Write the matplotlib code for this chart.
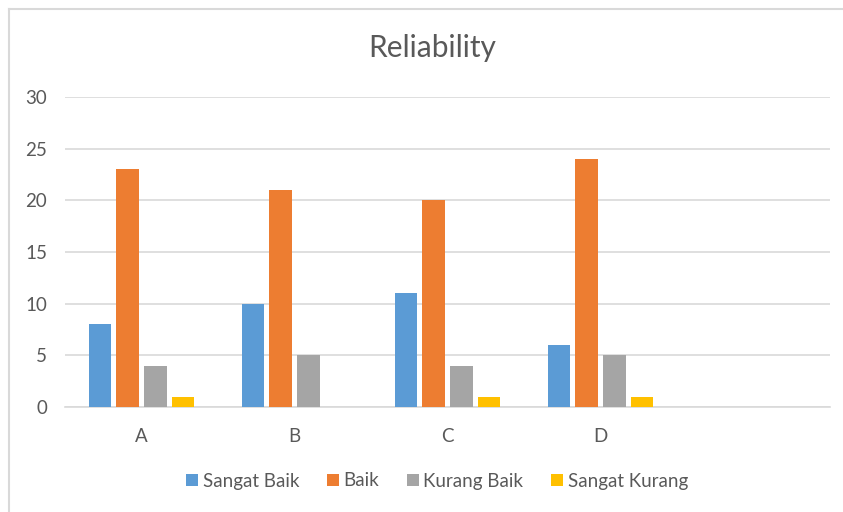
import numpy as np
import matplotlib.pyplot as plt
from matplotlib.lines import Line2D

plt.rcParams['font.family'] = ['Lato', 'DejaVu Sans']

kategori = ["A", "B", "C", "D", ""]
seri = ["Sangat Baik", "Baik", "Kurang Baik", "Sangat Kurang"]
sangat_baik = [8, 10, 11, 6]
baik = [23, 21, 20, 24]
kurang_baik = [4, 5, 4, 5]
sangat_kurang = [1, 0, 1, 1]
warna = ["#5B9BD5", "#ED7D31", "#A5A5A5", "#FFC000"]
teks = "#595959"

fig = plt.figure(figsize=(8.43, 5.12), dpi=100)
ax = fig.add_axes([65/843, 1-407/512, 765/843, 310/512])

x = np.arange(len(sangat_baik))
lebar = 0.147
jarak = 0.18
data = [sangat_baik, baik, kurang_baik, sangat_kurang]
for i in range(len(data)):
    ax.bar(x + (i - 1.5)*jarak, data[i], lebar, color=warna[i], label=seri[i], zorder=3)

ax.set_xlim(-0.5, len(kategori) - 0.5)
ax.set_ylim(0, 30)
ax.set_yticks(range(0, 31, 5))
ax.set_xticks(range(len(kategori)))
ax.set_xticklabels(kategori)
ax.grid(axis='y', color='#D9D9D9', linewidth=1.2, zorder=0)
for s in ['top', 'right', 'left']:
    ax.spines[s].set_visible(False)
ax.spines['bottom'].set_color('#D9D9D9')
ax.spines['bottom'].set_linewidth(1.2)
ax.tick_params(axis='both', length=0, labelsize=13.5, labelcolor=teks)
ax.tick_params(axis='y', pad=13)
ax.tick_params(axis='x', pad=15)

fig.text(432/843, 1-48/512, "Reliability", ha='center', va='center', fontsize=21.5, color=teks)

ax.legend(loc='center', bbox_to_anchor=(437/843, 1-481/512), bbox_transform=fig.transFigure,
          ncol=4, frameon=False, fontsize=13.5, labelcolor=teks, handlelength=0.65, handleheight=0.65,
          handletextpad=0.25, columnspacing=1.45)

# bingkai area grafik
fig.add_artist(Line2D([9/843, 9/843], [0, 1-9/512], color='#D9D9D9', linewidth=1.5))
fig.add_artist(Line2D([9/843, 1], [1-9/512, 1-9/512], color='#D9D9D9', linewidth=1.5))

fig.savefig("out.png", dpi=100)
